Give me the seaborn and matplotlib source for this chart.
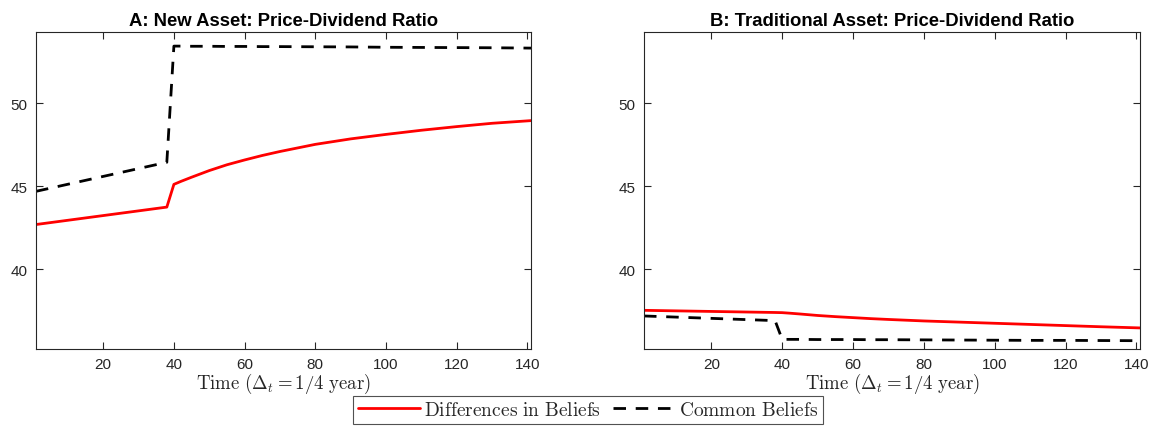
import numpy as np
import pandas as pd
import matplotlib
matplotlib.use("Agg")
import matplotlib.pyplot as plt
import seaborn as sns

# ---- data ----
t = [1, 38, 40, 42, 45, 50, 55, 60, 65, 70, 80, 90, 100, 110, 120, 130, 141]
diff_A = [42.70, 43.75, 45.12, 45.30, 45.55, 45.95, 46.30, 46.59, 46.86, 47.10, 47.53, 47.86,
          48.13, 48.38, 48.60, 48.80, 48.96]
common_A = [44.70, 46.45, 53.45, 53.45, 53.44, 53.44, 53.43, 53.43, 53.42, 53.42, 53.41, 53.40,
            53.38, 53.37, 53.36, 53.35, 53.33]
diff_B = [37.53, 37.40, 37.39, 37.36, 37.31, 37.22, 37.15, 37.09, 37.03, 36.98, 36.89, 36.82,
          36.75, 36.68, 36.61, 36.54, 36.47]
common_B = [37.19, 36.91, 35.78, 35.78, 35.78, 35.77, 35.77, 35.77, 35.76, 35.76, 35.75, 35.74,
            35.73, 35.72, 35.72, 35.71, 35.70]

titles = ["A: New Asset: Price-Dividend Ratio", "B: Traditional Asset: Price-Dividend Ratio"]
series_names = [r"$\mathrm{Differences\ in\ Beliefs}$", r"$\mathrm{Common\ Beliefs}$"]
xlabel = r"$\mathrm{Time}\ (\Delta_t = 1/4\ \mathrm{year})$"
xticks = [20, 40, 60, 80, 100, 120, 140]
yticks = [40, 45, 50]

sns.set_theme(style="white")
plt.rcParams["font.family"] = ["Liberation Sans", "DejaVu Sans"]
plt.rcParams["mathtext.fontset"] = "cm"

fig = plt.figure(figsize=(11.51, 4.27), dpi=100)
W, H = 1151, 427
axA = fig.add_axes([36 / W, 1 - 350 / H, (531 - 36) / W, (350 - 33) / H])
axB = fig.add_axes([644 / W, 1 - 350 / H, (1140 - 644) / W, (350 - 33) / H])

dark = "#262626"
for ax, d, c, title in [(axA, diff_A, common_A, titles[0]), (axB, diff_B, common_B, titles[1])]:
    df = pd.DataFrame({"t": t, "diff": d, "common": c})
    sns.lineplot(data=df, x="t", y="diff", ax=ax, color="#ff0000", lw=2.0,
                 label=series_names[0], legend=False)
    sns.lineplot(data=df, x="t", y="common", ax=ax, color="black", lw=2.0,
                 linestyle=(0, (4.5, 3.5)), label=series_names[1], legend=False)
    ax.set_xlim(1, 141)
    ax.set_ylim(35.2, 54.3)
    ax.set_xticks(xticks)
    ax.set_yticks(yticks)
    ax.tick_params(direction="in", length=5, width=0.8, top=True, right=True,
                   bottom=True, left=True, colors=dark, labelsize=11, pad=6)
    for lab in ax.get_xticklabels() + ax.get_yticklabels():
        lab.set_color(dark)
    for s in ax.spines.values():
        s.set_color(dark)
        s.set_linewidth(0.8)
    ax.set_xlabel(xlabel, fontsize=13.5, color=dark, labelpad=0)
    ax.set_ylabel("")
    ax.set_title(title, fontsize=13.3, fontweight="bold", color="black", pad=5)

handles, labels = axA.get_legend_handles_labels()
leg = fig.legend(handles, labels, loc="upper center", bbox_to_anchor=(588 / W, 1 - 397 / H),
                 ncol=2, frameon=True, fancybox=False, fontsize=14, handlelength=3.2,
                 handletextpad=0.2, columnspacing=0.6, borderpad=0.25, borderaxespad=0)
leg.get_frame().set_edgecolor(dark)
leg.get_frame().set_linewidth(0.8)

fig.savefig("out.png", dpi=100)
